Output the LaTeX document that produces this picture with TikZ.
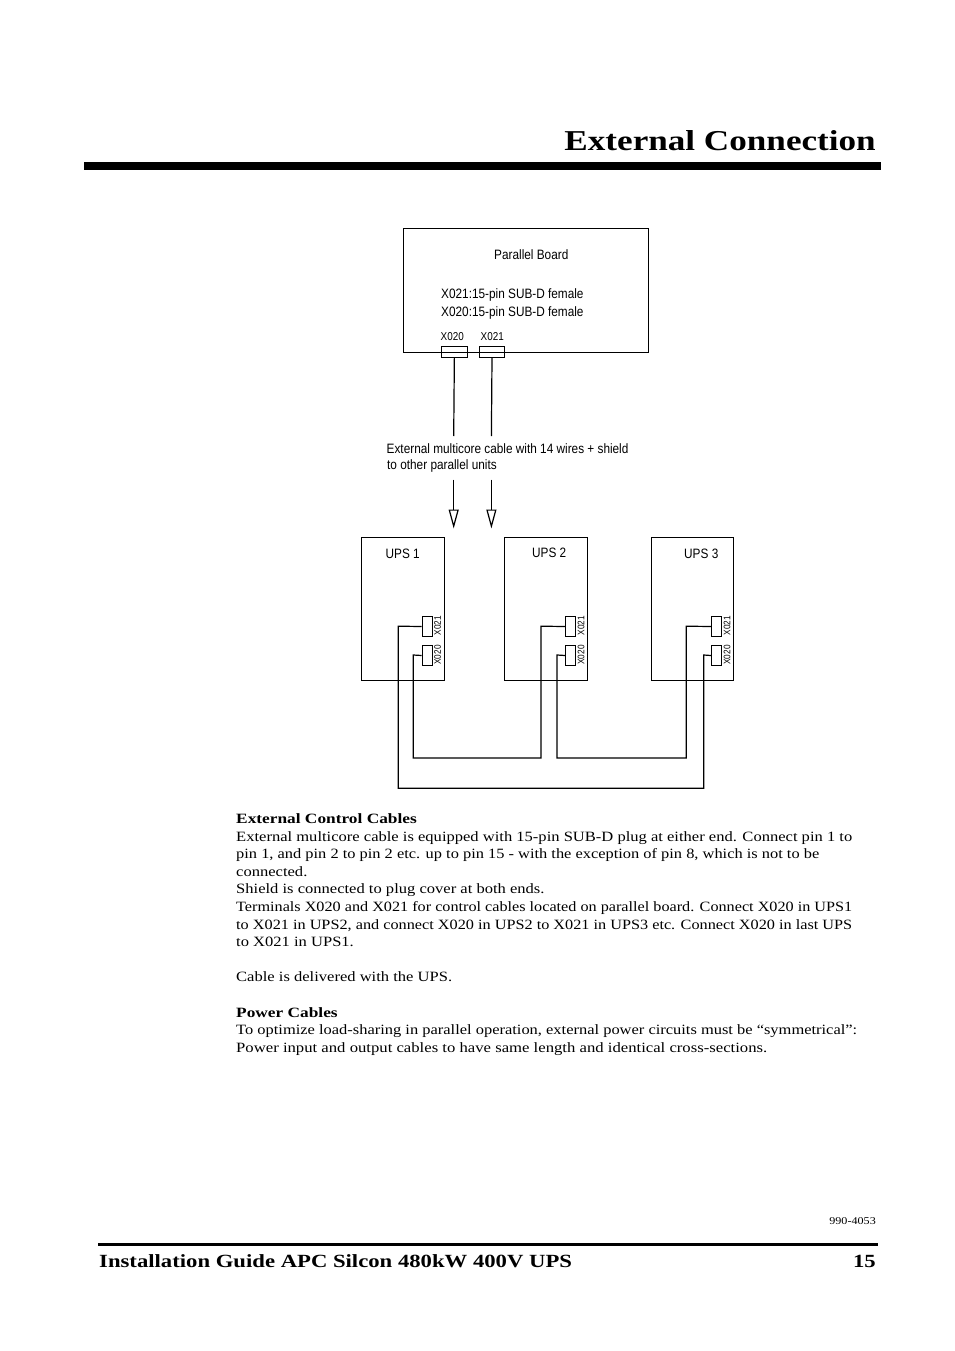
\documentclass[tikz,border=0pt]{standalone}
\usepackage{fontspec}
\setmainfont{Liberation Serif}[FakeStretch=1.165,BoldFeatures={FakeStretch=1.22}]
\newfontfamily\labelfont{Liberation Sans}[FakeStretch=0.868]
\usetikzlibrary{positioning,arrows.meta}

\newcommand{\fitline}[2]{\resizebox{#1pt}{\height}{#2}}

\tikzset{
    board/.style={draw,line width=1.1pt,inner sep=0pt,anchor=north west},
    plug/.style={draw,line width=1pt,inner sep=0pt,anchor=north west},
    wire/.style={line width=1.2pt},
    lbl/.style={font=\labelfont\fontsize{13.6}{16}\selectfont,inner sep=0pt,anchor=base west},
    tinylbl/.style={font=\labelfont\fontsize{11.4}{13}\selectfont,inner sep=0pt},
    sidelbl/.style={font=\labelfont\fontsize{9.5}{11}\selectfont,inner sep=0pt,rotate=90},
}

\begin{document}
\begin{tikzpicture}[x=1pt,y=-1pt]
    \useasboundingbox (0,0) rectangle (954,1351);

    % Encabezado
    \node[anchor=base east,inner sep=0pt,font=\bfseries\fontsize{28.8}{34}\selectfont] (title) at (876,151) {External Connection};
    \fill (84,162) rectangle (881,170);

    % Placa paralela
    \node[board,minimum width=245.3pt,minimum height=124.3pt] (parboard) at (403,228) {};
    \node[lbl] (parname) at (494,259) {Parallel Board};
    \node[lbl] (parline1) at (441,298) {X021:15-pin SUB-D female};
    \node[lbl] (parline2) at (441,316) {X020:15-pin SUB-D female};
    \node[tinylbl,anchor=base west] (parx020) at (440.5,340) {X020};
    \node[tinylbl,anchor=base west] (parx021) at (480.5,340) {X021};
    \node[plug,minimum width=25.7pt,minimum height=11pt] (plugA) at (441,346) {};
    \node[plug,minimum width=25.6pt,minimum height=11pt] (plugB) at (478.7,346) {};

    % Cables hacia las unidades
    \coordinate (cutA) at (453.7,436);
    \coordinate (cutB) at (491.4,436);
    \coordinate (startA) at (453.7,479.5);
    \coordinate (startB) at (491.4,479.5);
    \coordinate (tipA) at (453.7,528.5);
    \coordinate (tipB) at (491.4,528.5);
    \draw[wire] (plugA.south) -- (cutA);
    \draw[wire] (plugB.south) -- (cutB);
    \draw[wire,-{Triangle[open,length=19pt,width=10pt]}] (startA) -- (tipA);
    \draw[wire,-{Triangle[open,length=19pt,width=10pt]}] (startB) -- (tipB);
    \node[lbl] (cableone) at (386.5,453) {External multicore cable with 14 wires + shield};
    \node[lbl] (cabletwo) at (387,469) {to other parallel units};

    % Unidades
    \node[board,minimum width=83pt,minimum height=143.6pt] (upsA) at (361.3,536.7) {};
    \node[board,minimum width=83pt,minimum height=143.6pt] (upsB) at (504.3,536.7) {};
    \node[board,minimum width=82.3pt,minimum height=143.6pt] (upsC) at (651,536.7) {};
    \node[lbl] (upsAname) at (385.5,558) {UPS 1};
    \node[lbl] (upsBname) at (532,557) {UPS 2};
    \node[lbl] (upsCname) at (684,558) {UPS 3};

    % Conectores
    \foreach \name/\px in {A/421.7,B/565,C/711} {
        \node[plug,minimum width=10pt,minimum height=20.6pt] (in\name) at (\px,615.7) {};
        \node[plug,minimum width=10pt,minimum height=20.6pt] (out\name) at (\px,644.7) {};
        \node[sidelbl] (in\name txt) at (\px+16,625.5) {X021};
        \node[sidelbl] (out\name txt) at (\px+16,655) {X020};
    }

    % Cableado entre unidades
    \draw[wire] (inA.west) -- (398.3,626.2) -- (398.3,788.3) -- (703.7,788.3) -- (703.7,655) -- (outC.west);
    \draw[wire] (outA.west) -- (413.3,655) -- (413.3,758) -- (541,758) -- (541,626.2) -- (inB.west);
    \draw[wire] (outB.west) -- (557,655) -- (557,758) -- (686.3,758) -- (686.3,626.2) -- (inC.west);

    % Texto
    \node[anchor=north west,inner sep=0pt,align=left,font=\fontsize{14.2}{17.6}\selectfont] (bodytext) at (236,813.5) {%
        \textbf{External Control Cables}\\
        \fitline{616}{External multicore cable is equipped with 15-pin SUB-D plug at either end. Connect pin 1 to}\\
        \fitline{583}{pin 1, and pin 2 to pin 2 etc. up to pin 15 - with the exception of pin 8, which is not to be}\\
        connected.\\
        Shield is connected to plug cover at both ends.\\
        \fitline{616}{Terminals X020 and X021 for control cables located on parallel board. Connect X020 in UPS1}\\
        \fitline{616}{to X021 in UPS2, and connect X020 in UPS2 to X021 in UPS3 etc. Connect X020 in last UPS}\\
        to X021 in UPS1.\\
        ~\\
        Cable is delivered with the UPS.\\
        ~\\
        \textbf{Power Cables}\\
        \fitline{621}{To optimize load-sharing in parallel operation, external power circuits must be “symmetrical”:}\\
        \fitline{531}{Power input and output cables to have same length and identical cross-sections.}};

    % Pie
    \node[anchor=base east,inner sep=0pt,font=\fontsize{10.4}{12}\selectfont] (docno) at (876,1224) {990-4053};
    \fill (98,1243) rectangle (878,1246);
    \node[anchor=base west,inner sep=0pt,font=\bfseries\fontsize{18.6}{22}\selectfont] (guide) at (99,1267) {Installation Guide APC Silcon 480kW 400V UPS};
    \node[anchor=base east,inner sep=0pt,font=\bfseries\fontsize{18.6}{22}\selectfont] (pageno) at (876,1267) {15};
\end{tikzpicture}
\end{document}
